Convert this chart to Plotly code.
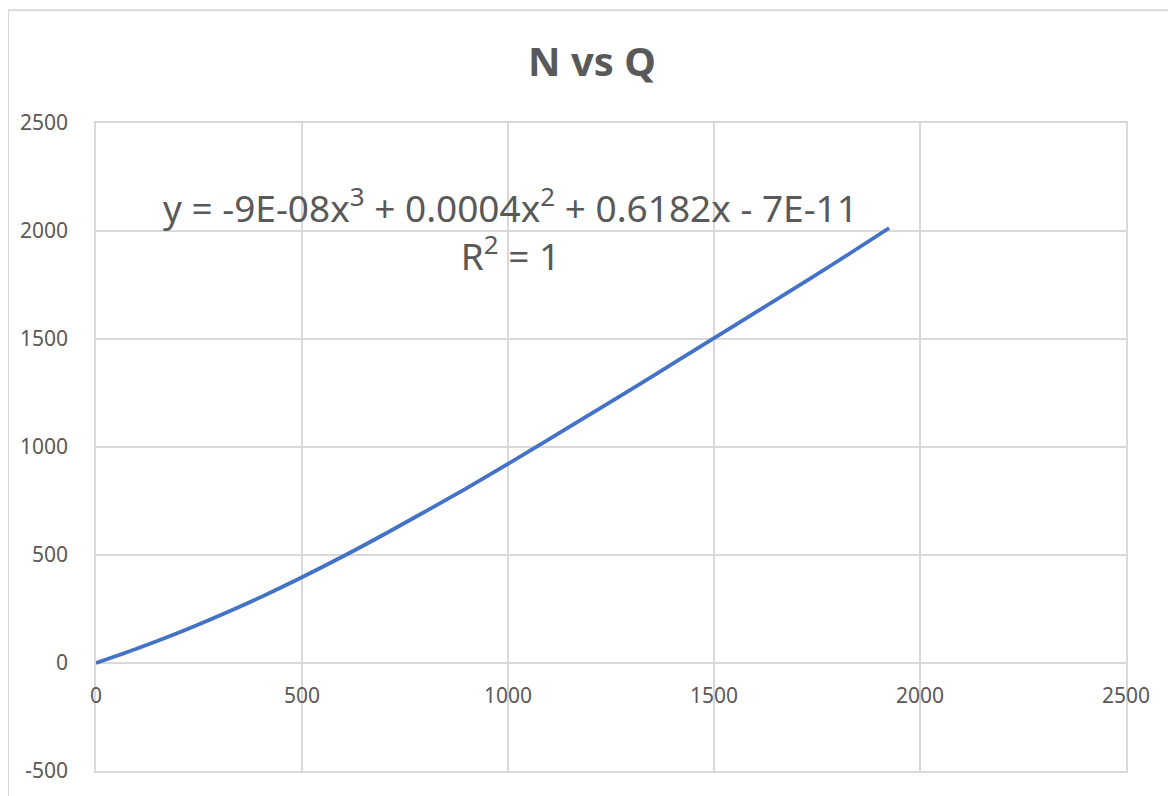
import numpy as np
import plotly.graph_objects as go

# Data
Q = [0, 100, 200, 300, 400, 500, 600, 700, 800, 900, 1000, 1100, 1200, 1300,
     1400, 1500, 1600, 1700, 1800, 1925]
N = [0, 67, 140, 220, 305, 397, 494, 596, 702, 810, 922, 1036, 1152, 1268,
     1386, 1504, 1622, 1740, 1860, 2014]

x_ticks = [0, 500, 1000, 1500, 2000, 2500]
y_ticks = [-500, 0, 500, 1000, 1500, 2000, 2500]
y_tick_labels = ["-500", "0", "500", "1000", "1500", "2000", "2500"]

title_text = "<b>N vs Q</b>"
eq_text = "y = -9E-08x<sup>3</sup> + 0.0004x<sup>2</sup> + 0.6182x - 7E-11"
r2_text = "R<sup>2</sup> = 1"

BLUE = "#4472C4"
GRID = "#d9d9d9"
TXT = "#595959"
FONT = "Noto Sans"

# figure size compensates for the browser's 8px default body margin
W, H = 1168, 788
L, R, T, B = 88, 50, 115, 23
PW, PH = W - L - R, H - T - B

# polynomial trendline (order 3) fitted to the series, as in the original
coef = np.polyfit(Q, N, 3)
q_fit = np.linspace(min(Q), max(Q), 200)
n_fit = np.polyval(coef, q_fit)

fig = go.Figure()
fig.add_trace(go.Scatter(x=q_fit, y=n_fit, mode="lines",
                         line=dict(color=BLUE, width=2, dash="dot"),
                         hoverinfo="skip", showlegend=False))
fig.add_trace(go.Scatter(x=Q, y=N, mode="lines",
                         line=dict(color=BLUE, width=3.8, shape="spline"),
                         showlegend=False))

annotations = []
for t in x_ticks:
    annotations.append(dict(x=t, y=0, xref="x", yref="y", text=str(t),
                            showarrow=False, yshift=-32, yanchor="middle",
                            font=dict(family=FONT, size=21, color=TXT)))
annotations.append(dict(x=1007, y=2008, xref="x", yref="y",
                        text=eq_text + "<br>" + r2_text,
                        showarrow=False, xanchor="center", yanchor="middle",
                        align="center",
                        font=dict(family=FONT, size=37, color=TXT)))

fig.update_layout(
    width=W, height=H,
    margin=dict(l=L, r=R, t=T, b=B, pad=0),
    paper_bgcolor="white", plot_bgcolor="white",
    title=dict(text=title_text, x=0.5, xref="container", xanchor="center",
               y=1 - 54 / H, yref="container", yanchor="middle",
               font=dict(family=FONT, size=40, color=TXT)),
    annotations=annotations,
    shapes=[dict(type="rect", xref="paper", yref="paper",
                 x0=(0 - L) / PW, x1=(W + 20 - L) / PW,
                 y0=-(B + 20) / PH, y1=(PH + T - 2) / PH,
                 line=dict(color=GRID, width=2), layer="below")],
    xaxis=dict(range=[0, 2500], tickvals=x_ticks, showticklabels=False,
               showgrid=True, gridcolor=GRID, gridwidth=1.5,
               zeroline=False, showline=True, linecolor=GRID, linewidth=1.5,
               mirror=True, ticks=""),
    yaxis=dict(range=[-500, 2500], tickvals=y_ticks, ticktext=y_tick_labels,
               showgrid=True, gridcolor=GRID, gridwidth=1.5, zeroline=True,
               zerolinecolor=GRID, zerolinewidth=1.5,
               showline=True, linecolor=GRID, linewidth=1.5, mirror=True,
               ticks="", ticklabelstandoff=22,
               tickfont=dict(family=FONT, size=21, color=TXT)),
)

fig.write_html("out.html")
